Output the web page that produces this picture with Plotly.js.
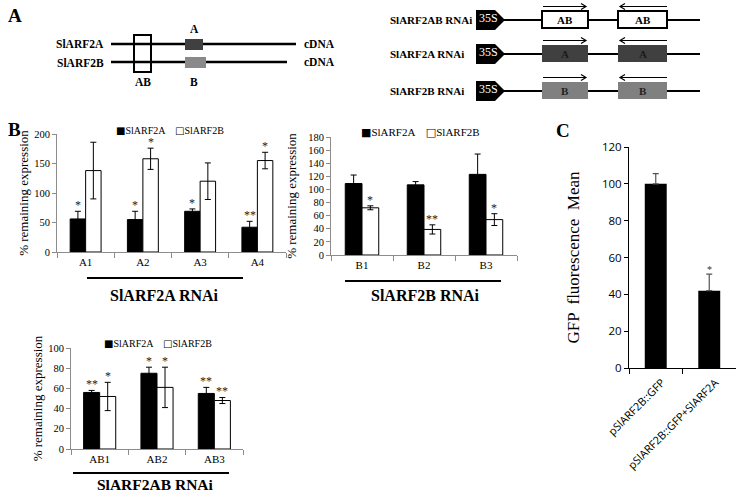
<!DOCTYPE html>
<html><head><meta charset="utf-8">
<script src="https://cdn.plot.ly/plotly-3.0.1.min.js"></script>
<style>html,body{margin:0;padding:0;background:#fff}#chart{width:736px;height:493px}</style>
</head><body><div id="chart"></div>
<script>
// ---------- DATA ----------
const seriesNames = ['SlARF2A', 'SlARF2B'];

const catsA = ['A1', 'A2', 'A3', 'A4'];
const a2A = [56, 55, 69, 42];
const a2AErr = [13, 14, 4, 10];
const a2B = [138, 158, 120, 155];
const a2BErr = [48, 18, 31, 14];
const a2ASig = ['*', '*', '*', '**'];
const a2BSig = ['', '*', '', '*'];

const catsB = ['B1', 'B2', 'B3'];
const b2A = [109, 107, 123];
const b2AErr = [13, 5, 31];
const b2B = [72, 39, 54];
const b2BErr = [3, 7, 9];
const b2ASig = ['', '', ''];
const b2BSig = ['*', '**', '*'];

const catsAB = ['AB1', 'AB2', 'AB3'];
const ab2A = [56, 75, 55];
const ab2AErr = [2, 6, 6];
const ab2B = [52, 61, 48];
const ab2BErr = [14, 20, 3];
const ab2ASig = ['**', '*', '**'];
const ab2BSig = ['*', '*', '**'];

const catsC = ['pSlARF2B::GFP', 'pSlARF2B::GFP+SlARF2A'];
const cVals = [100, 42];
const cErr = [5.5, 9];
const cSig = ['', '*'];

// ---------- HELPERS ----------
const W = 736, H = 493;
const px = x => x / W;
const py = y => 1 - y / H;
const SERIF = 'Liberation Serif';
const SANS = 'Open Sans';

const traces = [];
const annotations = [];
const shapes = [];

function pair(cats, v1, e1, v2, e2, s1, s2, ax, w) {
  const xa = 'x' + ax, ya = 'y' + ax;
  traces.push({type: 'bar', x: cats, y: v1, xaxis: xa, yaxis: ya, name: seriesNames[0], showlegend: false,
    width: w, offset: -w, marker: {color: '#000', line: {color: '#000', width: 1}},
    error_y: {type: 'data', array: e1, color: '#000', thickness: 1, width: 3}});
  traces.push({type: 'bar', x: cats, y: v2, xaxis: xa, yaxis: ya, name: seriesNames[1], showlegend: false,
    width: w, offset: 0, marker: {color: '#fff', line: {color: '#000', width: 1}},
    error_y: {type: 'data', array: e2, color: '#000', thickness: 1, width: 3}});
  cats.forEach((c, i) => {
    if (s1[i]) annotations.push({xref: xa, yref: ya, x: i - w / 2, y: v1[i] + e1[i], text: s1[i], showarrow: false,
      yanchor: 'bottom', yshift: -3, font: {family: SERIF, size: 12, color: '#222'}});
    if (s2[i]) annotations.push({xref: xa, yref: ya, x: i + w / 2, y: v2[i] + e2[i], text: s2[i], showarrow: false,
      yanchor: 'bottom', yshift: -3, font: {family: SERIF, size: 12, color: '#222'}});
  });
}

pair(catsA, a2A, a2AErr, a2B, a2BErr, a2ASig, a2BSig, '', 0.27);
pair(catsB, b2A, b2AErr, b2B, b2BErr, b2ASig, b2BSig, '2', 0.27);
pair(catsAB, ab2A, ab2AErr, ab2B, ab2BErr, ab2ASig, ab2BSig, '3', 0.28);

traces.push({type: 'bar', x: catsC, y: cVals, xaxis: 'x4', yaxis: 'y4', showlegend: false, name: 'GFP',
  width: 0.41, offset: -0.205, marker: {color: '#000'},
  error_y: {type: 'data', symmetric: false, array: cErr, arrayminus: cErr.map(() => 0), color: '#555', thickness: 1.2, width: 3}});
cSig.forEach((s, i) => {
  if (s) annotations.push({xref: 'x4', yref: 'y4', x: i, y: cVals[i] + cErr[i], text: s, showarrow: false,
    yanchor: 'bottom', yshift: -3, font: {family: SERIF, size: 10, color: '#333'}});
});

function xax(x0, x1, anchor, n, lc) {
  return {domain: [px(x0), px(x1)], anchor: anchor, type: 'category', range: [-0.5, n - 0.5],
    tickson: 'boundaries', ticks: 'outside', ticklen: 5, tickcolor: lc, showline: true, linecolor: lc, linewidth: 1,
    showgrid: false, zeroline: false, tickfont: {family: SERIF, size: 11, color: '#000'}, fixedrange: true};
}
function yax(yb, yt, anchor, max, dt, lc, standoff) {
  return {domain: [py(yb), py(yt)], anchor: anchor, range: [0, max], dtick: dt, ticks: 'outside', ticklen: 4,
    tickcolor: lc, showline: true, linecolor: lc, linewidth: 1, showgrid: false, zeroline: false,
    tickfont: {family: SERIF, size: 10.5, color: '#000'}, fixedrange: true,
    title: {text: '% remaining expression', font: {family: SERIF, size: 13, color: '#000'}, standoff: standoff}};
}

// ---------- TEXT / SHAPE HELPERS ----------
const T = (x, y, text, size, extra) => Object.assign({xref: 'paper', yref: 'paper', x: px(x), y: py(y), text: text,
  showarrow: false, xanchor: 'center', yanchor: 'middle', font: {family: SERIF, size: size || 11, color: '#000'}}, extra || {});
const L = (x0, y0, x1, y1, w, c) => ({type: 'line', xref: 'paper', yref: 'paper', x0: px(x0), y0: py(y0), x1: px(x1), y1: py(y1),
  line: {color: c || '#000', width: w || 2}});
const R = (x0, y0, x1, y1, fill, lc, lw) => ({type: 'rect', xref: 'paper', yref: 'paper', x0: px(x0), y0: py(y0), x1: px(x1), y1: py(y1),
  fillcolor: fill, line: {color: lc || fill, width: lw === undefined ? 0 : lw}});
const P = (pts, fill, lc, lw, closed) => ({type: 'path', xref: 'paper', yref: 'paper',
  path: pts.map((p, i) => (p[2] ? 'M' : (i === 0 ? 'M' : 'L')) + px(p[0]) + ',' + py(p[1])).join(' ') + (closed ? ' Z' : ''),
  fillcolor: fill || 'rgba(0,0,0,0)', line: {color: lc || '#000', width: lw === undefined ? 1 : lw}});

// Panel labels
annotations.push(T(15, 15, '<b>A</b>', 19));
annotations.push(T(14, 129, '<b>B</b>', 19));
annotations.push(T(563, 130, '<b>C</b>', 19));

// Panel A left diagram
shapes.push(L(111, 44, 296, 44, 2.5));
shapes.push(L(111, 62, 287, 62, 2.5));
shapes.push(R(134, 35, 151, 72, 'rgba(0,0,0,0)', '#000', 2));
shapes.push(R(185, 39, 203, 50, '#404040'));
shapes.push(R(185, 57, 206, 68, '#8a8a8a'));
annotations.push(T(106, 44, '<b>SlARF2A</b>', 11.5, {xanchor: 'right'}));
annotations.push(T(106, 63, '<b>SlARF2B</b>', 11.5, {xanchor: 'right'}));
annotations.push(T(302, 44, '<b>cDNA</b>', 11.5, {xanchor: 'left'}));
annotations.push(T(302, 62, '<b>cDNA</b>', 11.5, {xanchor: 'left'}));
annotations.push(T(194, 29, '<b>A</b>', 11.5));
annotations.push(T(194, 82, '<b>B</b>', 11.5));
annotations.push(T(143, 82, '<b>AB</b>', 11.5));

// Panel A right diagram
const rows = [
  {label: '<b>SlARF2AB RNAi</b>', y: 20, fill: '#fff', txt: '<b>AB</b>', tc: '#000', border: '#000', bw: 2},
  {label: '<b>SlARF2A RNAi</b>', y: 54, fill: '#404040', txt: '<b>A</b>', tc: '#1a1a1a', border: '#404040', bw: 0},
  {label: '<b>SlARF2B RNAi</b>', y: 91, fill: '#808080', txt: '<b>B</b>', tc: '#222', border: '#808080', bw: 0}
];
rows.forEach(r => {
  const y = r.y;
  annotations.push(T(388, y, r.label, 11, {xanchor: 'left'}));
  shapes.push(L(503, y, 700, y, 2));
  shapes.push(P([[476, y - 10], [495, y - 10], [505, y], [495, y + 10], [476, y + 10]], '#000', '#000', 0, true));
  annotations.push(T(477, y - 2, '35S', 12, {xanchor: 'left', font: {family: SERIF, size: 12, color: '#fff'}}));
  shapes.push(R(542, y - 9, 588, y + 8, r.fill, r.border, r.bw));
  shapes.push(R(618, y - 9, 667, y + 8, r.fill, r.border, r.bw));
  annotations.push(T(565, y, r.txt, 11, {font: {family: SERIF, size: 11, color: r.tc}}));
  annotations.push(T(643, y, r.txt, 11, {font: {family: SERIF, size: 11, color: r.tc}}));
  const ay = y - 13.5;
  shapes.push(P([[543, ay], [586, ay], [581, ay - 3, 1], [586, ay], [581, ay + 3]], null, '#000', 1.2));
  shapes.push(P([[667, ay], [620, ay], [625, ay - 3, 1], [620, ay], [625, ay + 3]], null, '#000', 1.2));
});

// Legends (text) for B charts
const legTxt = '<span style="font-family:DejaVu Sans">■</span>' + seriesNames[0] +
  '    <span style="font-family:DejaVu Sans">□</span>' + seriesNames[1];
annotations.push(T(170, 130, legTxt, 10));
annotations.push(T(420, 132, legTxt, 11));
annotations.push(T(158, 343, legTxt, 10));

// Group underlines + titles
shapes.push(L(87, 278, 243, 278, 2));
annotations.push(T(164, 295, '<b>SlARF2A RNAi</b>', 16));
shapes.push(L(345, 281, 501, 281, 2));
annotations.push(T(425, 295, '<b>SlARF2B RNAi</b>', 16));
shapes.push(L(73, 473, 229, 473, 2));
annotations.push(T(155, 484, '<b>SlARF2AB RNAi</b>', 15.5));

const AX = '#8c8c8c';
const layout = {
  width: W, height: H, margin: {l: 0, r: 0, t: 0, b: 0}, paper_bgcolor: '#fff', plot_bgcolor: 'rgba(0,0,0,0)',
  showlegend: false, barmode: 'group',
  xaxis: xax(57, 286, 'y', 4, AX),
  yaxis: yax(252, 134, 'x', 200, 50, AX, 2),
  xaxis2: xax(331, 517, 'y2', 3, AX),
  yaxis2: yax(255, 137, 'x2', 180, 20, AX, 8),
  xaxis3: xax(71, 243, 'y3', 3, AX),
  yaxis3: yax(449, 348, 'x3', 100, 20, AX, 2),
  xaxis4: {domain: [px(629), 1], anchor: 'y4', type: 'category', range: [-0.5, 1.5], tickson: 'boundaries',
    ticks: 'outside', ticklen: 5, tickcolor: '#000', showline: true, linecolor: '#000', linewidth: 1, showgrid: false,
    zeroline: false, tickangle: -45, ticklabelshift: 6, ticklabelstandoff: 3,
    tickfont: {family: SANS, size: 11, color: '#000'}, fixedrange: true},
  yaxis4: {domain: [py(368), py(147)], anchor: 'x4', range: [0, 120], dtick: 20, ticks: 'outside', ticklen: 4,
    tickcolor: '#000', showline: true, linecolor: '#000', linewidth: 1, showgrid: false, zeroline: false,
    tickfont: {family: SANS, size: 11.5, color: '#000'}, fixedrange: true,
    title: {text: 'GFP  fluorescence  Mean', font: {family: SERIF, size: 17, color: '#000'}, standoff: 18}},
  annotations: annotations, shapes: shapes
};

Plotly.newPlot('chart', traces, layout, {displayModeBar: false, staticPlot: true});
</script></body></html>
